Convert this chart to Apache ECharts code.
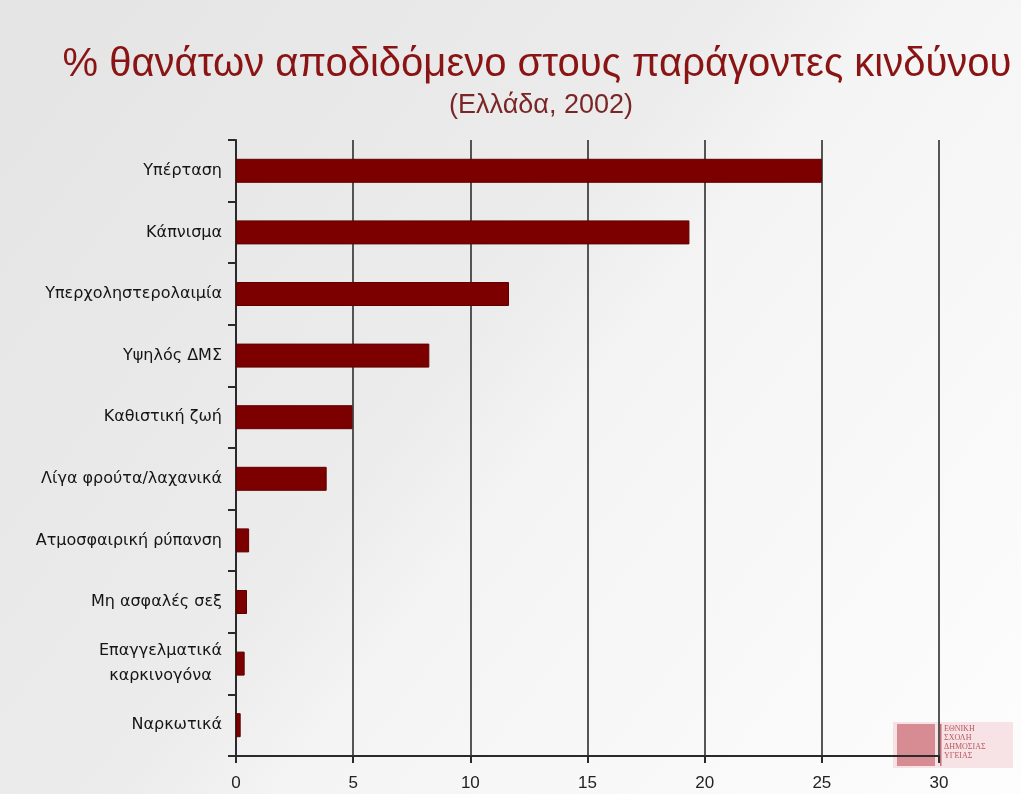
<!DOCTYPE html>
<html>
<head>
<meta charset="utf-8">
<script src="https://cdn.jsdelivr.net/npm/echarts@6/dist/echarts.min.js"></script>
<style>
html,body{margin:0;padding:0;width:1021px;height:794px;overflow:hidden;}
#chart{width:1021px;height:794px;}
</style>
</head>
<body>
<div id="chart"></div>
<script>
const titleText = '% θανάτων αποδιδόμενο στους παράγοντες κινδύνου';
const subtitleText = '(Ελλάδα, 2002)';
const categories = ['Υπέρταση','Κάπνισμα','Υπερχοληστερολαιμία','Υψηλός ΔΜΣ','Καθιστική ζωή','Λίγα φρούτα/λαχανικά','Ατμοσφαιρική ρύπανση','Μη ασφαλές σεξ','Επαγγελματικά\nκαρκινογόνα','Ναρκωτικά'];
const values = [25.0, 19.35, 11.65, 8.25, 4.97, 3.87, 0.56, 0.47, 0.37, 0.2];
const xTicks = [0, 5, 10, 15, 20, 25, 30];

const labelFont = 'DejaVu Sans';
const chart = echarts.init(document.getElementById('chart'));
chart.setOption({
  backgroundColor: {
    type: 'linear', x: 0, y: 0, x2: 1, y2: 1,
    colorStops: [
      {offset: 0, color: '#e4e4e4'},
      {offset: 0.45, color: '#ececec'},
      {offset: 0.55, color: '#f4f4f4'},
      {offset: 1, color: '#fdfdfd'}
    ]
  },
  title: [
    {text: titleText, left: 532, top: 40, textAlign: 'center',
     textStyle: {fontFamily: 'Liberation Sans', fontSize: 40, fontWeight: 'normal', color: '#8a1414'}},
    {text: subtitleText, left: 536, top: 87, textAlign: 'center',
     textStyle: {fontFamily: 'Liberation Sans', fontSize: 27, fontWeight: 'normal', color: '#7a2626'}}
  ],
  grid: {left: 236, right: 82, top: 140, bottom: 38, containLabel: false},
  xAxis: {
    type: 'value', min: xTicks[0], max: xTicks[xTicks.length - 1], interval: 5,
    axisLine: {show: true, onZero: false, lineStyle: {color: '#2a2a2a', width: 2}},
    axisTick: {show: true, length: 7, lineStyle: {color: '#2a2a2a', width: 2}},
    axisLabel: {margin: 19, color: '#222', fontSize: 17, fontFamily: 'Liberation Sans'},
    splitLine: {show: true, lineStyle: {color: '#2e2e2e', width: 1.6}}
  },
  yAxis: {
    type: 'category', data: categories, inverse: true,
    axisLine: {show: true, lineStyle: {color: '#2a2a2a', width: 2}},
    axisTick: {show: true, length: 8, lineStyle: {color: '#2a2a2a', width: 2}},
    axisLabel: {
      margin: 14, color: '#151515', fontSize: 16, fontFamily: labelFont,
      formatter: function (v) {
        if (v.indexOf('\n') >= 0) {
          const p = v.split('\n');
          return '{a|' + p[0] + '}\n{b|' + p[1] + '}';
        }
        return v;
      },
      rich: {
        a: {fontSize: 16, color: '#151515', fontFamily: labelFont, lineHeight: 25, align: 'center'},
        b: {fontSize: 16, color: '#151515', fontFamily: labelFont, lineHeight: 25, align: 'center'}
      }
    }
  },
  series: [{
    type: 'bar', data: values, barWidth: 24,
    itemStyle: {color: '#7d0000', borderColor: '#5e0000', borderWidth: 1},
    silent: true
  }],
  graphic: [
    {type: 'rect', left: 893, top: 722, shape: {width: 120, height: 46},
     style: {fill: 'rgba(230,150,160,0.25)'}},
    {type: 'rect', left: 897, top: 724, shape: {width: 38, height: 42},
     style: {fill: 'rgba(190,70,80,0.55)'}},
    {type: 'rect', left: 940, top: 724, shape: {width: 1.5, height: 42},
     style: {fill: 'rgba(170,60,70,0.7)'}},
    {type: 'text', left: 944, top: 724,
     style: {text: 'ΕΘΝΙΚΗ\nΣΧΟΛΗ\nΔΗΜΟΣΙΑΣ\nΥΓΕΙΑΣ', fontSize: 8, lineHeight: 9, fill: 'rgba(170,50,60,0.8)', fontFamily: 'Liberation Serif'}}
  ]
});
</script>
</body>
</html>
